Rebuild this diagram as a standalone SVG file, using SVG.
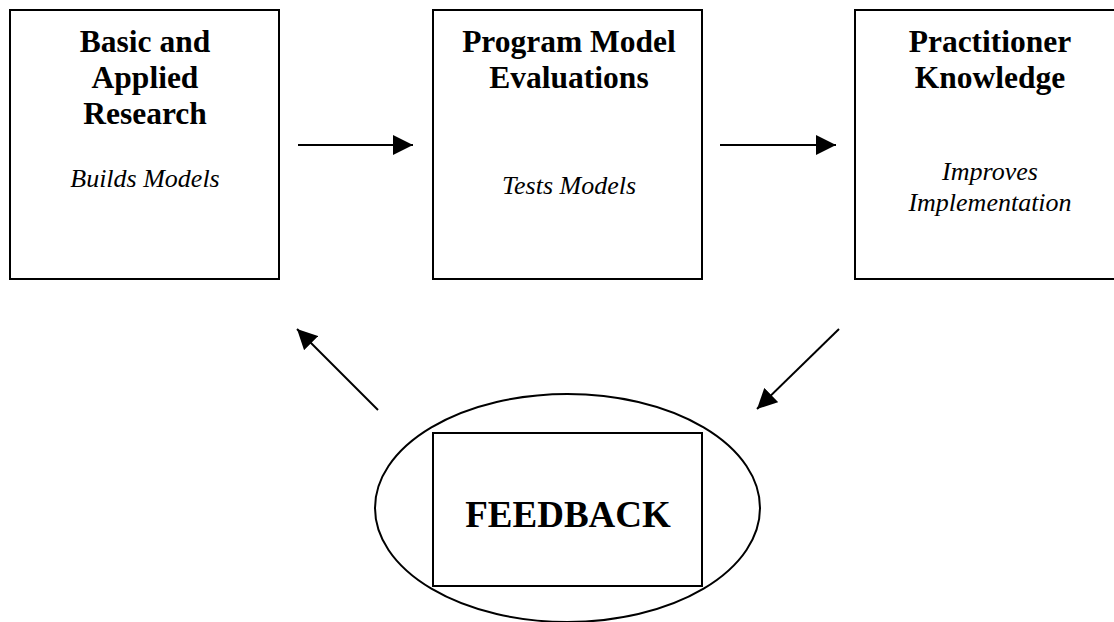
<svg xmlns="http://www.w3.org/2000/svg" width="1114" height="622" viewBox="0 0 1114 622">
<defs>
<marker id="ah" markerWidth="20" markerHeight="20" refX="20" refY="10" orient="auto" markerUnits="userSpaceOnUse" viewBox="0 0 20 20">
<path d="M0,0 L20,10 L0,20 Z" fill="#000"/>
</marker>
<style>
.box{fill:#fff;stroke:#000;stroke-width:2}
.t{font-family:"Liberation Serif","Times New Roman",serif;font-weight:bold;font-size:31.5px;text-anchor:middle;fill:#000}
.i{font-family:"Liberation Serif","Times New Roman",serif;font-style:italic;font-size:26px;text-anchor:middle;fill:#000}
.c{stroke:#000;stroke-width:2;fill:none}
</style>
</defs>
<rect width="1114" height="622" fill="#fff"/>
<g id="research">
<rect class="box" x="10" y="10" width="269" height="269"/>
<text class="t" x="145" y="52">Basic and</text>
<text class="t" x="145" y="88">Applied</text>
<text class="t" x="145" y="124">Research</text>
<text class="i" x="145" y="187">Builds Models</text>
</g>
<g id="evaluations">
<rect class="box" x="433" y="10" width="269" height="269"/>
<text class="t" x="569" y="52">Program Model</text>
<text class="t" x="569" y="88">Evaluations</text>
<text class="i" x="569" y="194">Tests Models</text>
</g>
<g id="practitioner">
<rect class="box" x="855" y="10" width="269" height="269"/>
<text class="t" x="990" y="52">Practitioner</text>
<text class="t" x="990" y="88">Knowledge</text>
<text class="i" x="990" y="180">Improves</text>
<text class="i" x="990" y="211">Implementation</text>
</g>
<g id="feedback">
<ellipse cx="567.5" cy="508" rx="192.5" ry="114" fill="none" stroke="#000" stroke-width="2"/>
<rect class="box" x="433" y="433" width="269" height="153"/>
<text class="t" style="font-size:37px" x="568" y="527">FEEDBACK</text>
</g>
<g id="connectors">
<line class="c" x1="298" y1="145" x2="413" y2="145" marker-end="url(#ah)"/>
<line class="c" x1="720" y1="145" x2="836" y2="145" marker-end="url(#ah)"/>
<line class="c" x1="378" y1="410" x2="297" y2="329" marker-end="url(#ah)"/>
<line class="c" x1="839" y1="329" x2="757" y2="409" marker-end="url(#ah)"/>
</g>
</svg>
